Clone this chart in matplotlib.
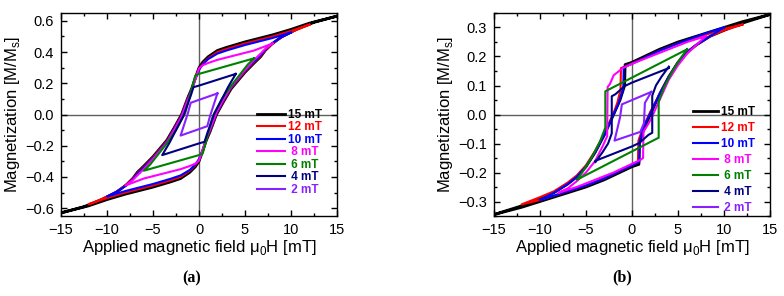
import matplotlib.pyplot as plt
from matplotlib.ticker import MultipleLocator

plt.rcParams['font.family'] = ['Liberation Sans', 'DejaVu Sans']

labels = ['15 mT', '12 mT', '10 mT', ' 8 mT', ' 6 mT', ' 4 mT', ' 2 mT']
colors = ['#000000', '#ff0000', '#0000ff', '#ff00ff', '#008000', '#000080', '#8a1fff']
widths = [2.0, 1.5, 1.5, 1.5, 1.5, 1.5, 1.5]

# ---- panel (a): descending branches, field in mT and M/Ms
# (the ascending branch is the point mirror of the descending one)
a15_h = [15, 12, 10, 8, 5, 3, 2, 1, 0.4, 0, -0.4, -0.8, -1.2, -1.9, -2.7, -3.5, -5, -6, -6.7, -7.2, -7.9, -9, -10.8, -12.5, -15]
a15_m = [0.63, 0.585, 0.545, 0.51, 0.465, 0.43, 0.41, 0.37, 0.335, 0.30, 0.235, 0.165, 0.11, 0.0, -0.085, -0.165, -0.27, -0.33, -0.37, -0.41, -0.45, -0.50, -0.55, -0.59, -0.63]
a12_h = [12, 10, 8, 5, 3, 2, 1, 0.4, 0, -0.4, -0.8, -1.2, -1.9, -2.7, -3.5, -5, -6, -6.7, -7.2, -7.9, -9, -10.5, -12]
a12_m = [0.575, 0.535, 0.50, 0.455, 0.42, 0.40, 0.36, 0.325, 0.29, 0.23, 0.16, 0.105, -0.005, -0.09, -0.17, -0.275, -0.335, -0.375, -0.41, -0.45, -0.495, -0.54, -0.575]
a10_h = [10, 8, 5, 3, 2, 1, 0.4, 0, -0.4, -0.8, -1.2, -1.9, -2.7, -3.5, -5, -6, -6.7, -7.2, -7.9, -9, -10]
a10_m = [0.525, 0.49, 0.445, 0.41, 0.39, 0.355, 0.32, 0.285, 0.225, 0.155, 0.10, -0.01, -0.095, -0.175, -0.28, -0.34, -0.38, -0.415, -0.455, -0.495, -0.525]
a8_h = [8, 6, 4, 2, 1, 0.4, 0, -0.4, -0.8, -1.2, -1.9, -2.7, -3.5, -5, -6, -6.7, -7.2, -8]
a8_m = [0.455, 0.41, 0.38, 0.35, 0.33, 0.315, 0.295, 0.225, 0.15, 0.095, -0.015, -0.1, -0.18, -0.285, -0.35, -0.39, -0.42, -0.455]
a6_h = [6, 0, -0.4, -0.8, -1.5, -2.5, -3.5, -4.5, -5.3, -6]
a6_m = [0.36, 0.26, 0.25, 0.16, 0.01, -0.1, -0.185, -0.26, -0.32, -0.36]
a4_h = [4, 0, -0.6, -0.9, -1.7, -2.5, -3.2, -4]
a4_m = [0.26, 0.185, 0.175, 0.12, -0.01, -0.1, -0.18, -0.26]
a2_h = [2, -0.9, -1.2, -2]
a2_m = [0.135, 0.075, 0.01, -0.135]

# ---- panel (b): descending and ascending branches (None = mirror of descending)
b15_h = [15, 12, 10, 8, 5, 3, 2, 1, 0, -0.75, -0.8, -1.3, -2, -3, -4, -5, -6, -7, -8.5, -10, -12, -15]
b15_m = [0.345, 0.32, 0.30, 0.28, 0.25, 0.225, 0.21, 0.195, 0.18, 0.172, 0.10, 0.05, 0.0, -0.07, -0.13, -0.18, -0.215, -0.24, -0.27, -0.29, -0.315, -0.345]
b12_h = [12, 10, 8, 5, 3, 2, 1, 0, -0.6, -1.2, -1.25, -1.6, -2, -3, -4, -5, -6, -7, -8.5, -10, -12]
b12_m = [0.31, 0.295, 0.275, 0.245, 0.22, 0.205, 0.19, 0.175, 0.167, 0.16, 0.085, 0.04, 0.005, -0.065, -0.125, -0.175, -0.21, -0.235, -0.265, -0.285, -0.31]
b12_hu = [-12, -10, -8, -5, -3, -2, -1, 0, 0.65, 0.7, 1.2, 2, 3, 4, 5, 6, 7, 8.5, 10, 12]
b12_mu = [-0.31, -0.295, -0.275, -0.245, -0.22, -0.205, -0.19, -0.175, -0.165, -0.09, -0.045, 0.01, 0.07, 0.13, 0.18, 0.215, 0.24, 0.27, 0.29, 0.31]
b10_h = [10, 8, 5, 3, 2, 1, 0, -0.9, -0.95, -1.5, -2, -3, -4, -5, -6, -7, -8.5, -10]
b10_m = [0.30, 0.28, 0.245, 0.22, 0.205, 0.19, 0.175, 0.163, 0.09, 0.035, 0.0, -0.07, -0.13, -0.18, -0.215, -0.24, -0.27, -0.295]
b10_hu = [-10, -8, -5, -3, -2, -1, 0, 0.8, 0.85, 1.3, 2, 3, 4, 5, 6, 7, 8.5, 10]
b10_mu = [-0.295, -0.275, -0.245, -0.22, -0.205, -0.19, -0.175, -0.163, -0.09, -0.04, 0.005, 0.07, 0.13, 0.18, 0.215, 0.24, 0.27, 0.30]
b8_h = [8, 6, 4, 2, 0, -1, -2, -2.4, -2.65, -2.7, -3.2, -4, -5, -6, -7, -8]
b8_m = [0.27, 0.25, 0.225, 0.2, 0.175, 0.16, 0.135, 0.105, 0.095, -0.075, -0.11, -0.16, -0.2, -0.23, -0.255, -0.27]
b8_hu = [-8, -6, -4, -2, 0, 1.0, 1.2, 1.25, 2, 3, 4, 5, 6, 7, 8]
b8_mu = [-0.27, -0.25, -0.225, -0.2, -0.17, -0.155, -0.15, -0.06, -0.02, 0.05, 0.12, 0.17, 0.21, 0.24, 0.27]
b6_h = [6, -2.9, -2.9, -3.5, -4.5, -5.3, -6]
b6_m = [0.225, 0.08, -0.045, -0.095, -0.155, -0.195, -0.225]
b4_h = [4, 2, 0, -0.8, -1.8, -2.2, -2.2, -2.6, -3.2, -4]
b4_m = [0.16, 0.135, 0.11, 0.098, 0.07, 0.063, -0.065, -0.1, -0.13, -0.165]
b2_h = [2.1, -1.1, -1.3, -1.9]
b2_m = [0.078, 0.035, -0.01, -0.09]
b2_hu = [-1.9, 0.9, 1.3, 1.4, 2.1]
b2_mu = [-0.09, -0.06, -0.03, 0.04, 0.078]

loops_a = [(a15_h, a15_m, None, None), (a12_h, a12_m, None, None), (a10_h, a10_m, None, None),
           (a8_h, a8_m, None, None), (a6_h, a6_m, None, None), (a4_h, a4_m, None, None),
           (a2_h, a2_m, None, None)]
loops_b = [(b15_h, b15_m, None, None), (b12_h, b12_m, b12_hu, b12_mu), (b10_h, b10_m, b10_hu, b10_mu),
           (b8_h, b8_m, b8_hu, b8_mu), (b6_h, b6_m, None, None), (b4_h, b4_m, None, None),
           (b2_h, b2_m, b2_hu, b2_mu)]


def draw(ax, loops, ylim, ymajor, legend_anchor, legend_space, handle_len):
    ax.axhline(0, color='#606060', lw=1, zorder=1)
    ax.axvline(0, color='#606060', lw=1, zorder=1)
    for (hd, md, hu, mu), lab, c, w in zip(loops, labels, colors, widths):
        if hu is None:
            hu = [-h for h in hd]
            mu = [-m for m in md]
        ax.plot(hd + hu, md + mu, color=c, lw=w, label=lab, zorder=2)
    ax.set_xlim(-15, 15)
    ax.set_ylim(-ylim, ylim)
    ax.xaxis.set_major_locator(MultipleLocator(5))
    ax.xaxis.set_minor_locator(MultipleLocator(2.5))
    ax.yaxis.set_major_locator(MultipleLocator(ymajor))
    ax.yaxis.set_minor_locator(MultipleLocator(ymajor / 2))
    ax.tick_params(which='both', direction='in', top=True, right=True, labelsize=10.5)
    ax.tick_params(which='major', length=4, width=1, pad=5)
    ax.tick_params(which='minor', length=2, width=1)
    for s in ax.spines.values():
        s.set_linewidth(1)
    ax.set_xlabel('Applied magnetic field μ$_\\mathregular{0}$H [mT]', fontsize=12, labelpad=1)
    ax.set_ylabel('Magnetization [M/M$_\\mathregular{s}$]', fontsize=12, labelpad=2)
    leg = ax.legend(loc='lower right', bbox_to_anchor=legend_anchor, frameon=False,
                    prop={'weight': 'bold', 'size': 8.5}, labelcolor='linecolor',
                    handlelength=handle_len, handletextpad=0.25, labelspacing=legend_space,
                    borderpad=0, borderaxespad=0)
    return leg


fig = plt.figure(figsize=(7.84, 2.96), dpi=100)
ax1 = fig.add_axes([61 / 784, 80 / 296, 276 / 784, 203 / 296])
ax2 = fig.add_axes([494 / 784, 80 / 296, 276 / 784, 203 / 296])

draw(ax1, loops_a, 0.65, 0.2, (0.945, 0.1), 0.04, 2.4)
draw(ax2, loops_b, 0.35, 0.1, (0.945, 0.008), 0.34, 2.1)

fig.text(192 / 784, 1 - 278 / 296, '(a)', family='Liberation Serif', weight='bold', fontsize=11.5,
         ha='center', va='center')
fig.text(622 / 784, 1 - 277 / 296, '(b)', family='Liberation Serif', weight='bold', fontsize=11.5,
         ha='center', va='center')

fig.savefig('out.png', dpi=100)
